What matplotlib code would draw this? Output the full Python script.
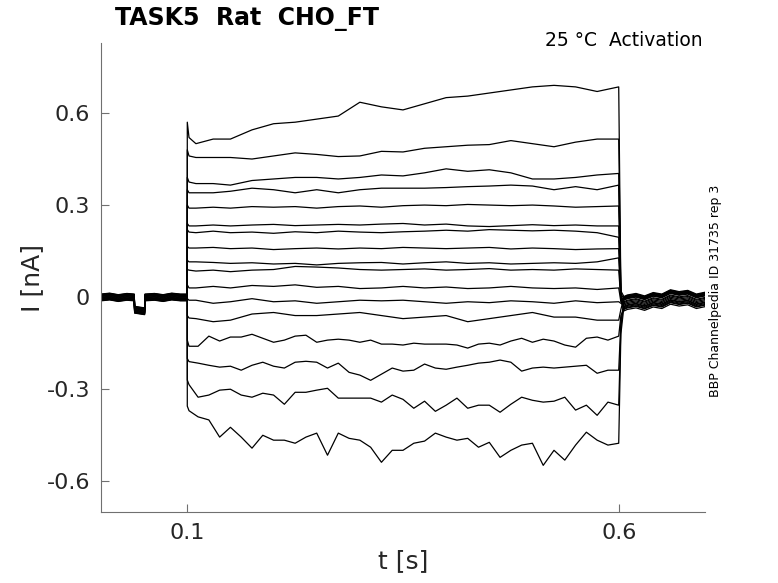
import numpy as np
import matplotlib.pyplot as plt

# times (s)
t_pre = [0.0, 0.01, 0.02, 0.03, 0.0385, 0.039, 0.0505, 0.051, 0.062, 0.072, 0.082, 0.092, 0.1]
pre_base = [0.0, 0.003, -0.002, 0.002, 0.0, -0.04, -0.045, 0.0, 0.002, -0.002, 0.003, 0.0, 0.0]

# coarse time grid for the upper sweeps
t_step = [0.1, 0.102, 0.11, 0.13, 0.15, 0.175, 0.2, 0.225, 0.25, 0.275, 0.3, 0.325,
          0.35, 0.375, 0.4, 0.425, 0.45, 0.475, 0.5, 0.525, 0.55, 0.575, 0.6]
# finer grid for the noisy lower sweeps
t_fine = [0.1, 0.102, 0.1125, 0.125, 0.1375, 0.15, 0.1625, 0.175, 0.1875, 0.2, 0.2125, 0.225,
          0.2375, 0.25, 0.2625, 0.275, 0.2875, 0.3, 0.3125, 0.325, 0.3375, 0.35, 0.3625, 0.375,
          0.3875, 0.4, 0.4125, 0.425, 0.4375, 0.45, 0.4625, 0.475, 0.4875, 0.5, 0.5125, 0.525,
          0.5375, 0.55, 0.5625, 0.575, 0.5875, 0.6]

# current during the step (nA), one list per sweep
tr1 = [0.57, 0.52, 0.50, 0.515, 0.515, 0.545, 0.565, 0.57, 0.58, 0.59, 0.635, 0.62, 0.61, 0.63, 0.65, 0.655, 0.665, 0.675, 0.685, 0.69, 0.685, 0.67, 0.685]
tr2 = [0.48, 0.46, 0.455, 0.455, 0.455, 0.45, 0.46, 0.47, 0.465, 0.458, 0.46, 0.475, 0.473, 0.485, 0.49, 0.495, 0.497, 0.51, 0.5, 0.49, 0.505, 0.515, 0.515]
tr3 = [0.39, 0.375, 0.37, 0.37, 0.365, 0.38, 0.385, 0.39, 0.39, 0.385, 0.39, 0.398, 0.395, 0.405, 0.418, 0.41, 0.415, 0.405, 0.385, 0.385, 0.39, 0.398, 0.403]
tr4 = [0.35, 0.34, 0.34, 0.34, 0.345, 0.355, 0.35, 0.34, 0.35, 0.34, 0.35, 0.355, 0.355, 0.355, 0.357, 0.36, 0.362, 0.365, 0.362, 0.35, 0.36, 0.35, 0.365]
tr5 = [0.30, 0.29, 0.29, 0.293, 0.29, 0.295, 0.293, 0.295, 0.29, 0.295, 0.297, 0.293, 0.298, 0.3, 0.298, 0.302, 0.3, 0.298, 0.3, 0.297, 0.293, 0.295, 0.297]
tr6 = [0.24, 0.232, 0.232, 0.235, 0.232, 0.235, 0.237, 0.233, 0.235, 0.237, 0.235, 0.238, 0.24, 0.235, 0.238, 0.232, 0.23, 0.233, 0.236, 0.233, 0.235, 0.232, 0.232]
tr7 = [0.22, 0.212, 0.21, 0.215, 0.21, 0.212, 0.208, 0.213, 0.21, 0.215, 0.212, 0.21, 0.213, 0.215, 0.218, 0.215, 0.22, 0.218, 0.216, 0.218, 0.215, 0.21, 0.195]
tr8 = [0.165, 0.16, 0.16, 0.162, 0.158, 0.16, 0.155, 0.158, 0.16, 0.157, 0.16, 0.158, 0.162, 0.16, 0.158, 0.16, 0.162, 0.157, 0.16, 0.158, 0.155, 0.157, 0.158]
tr9 = [0.12, 0.115, 0.115, 0.113, 0.11, 0.112, 0.108, 0.11, 0.105, 0.11, 0.112, 0.113, 0.108, 0.112, 0.115, 0.11, 0.112, 0.108, 0.11, 0.112, 0.11, 0.115, 0.128]
tr10 = [0.09, 0.088, 0.085, 0.088, 0.083, 0.088, 0.09, 0.10, 0.098, 0.095, 0.09, 0.088, 0.09, 0.092, 0.088, 0.09, 0.093, 0.088, 0.09, 0.088, 0.092, 0.09, 0.088]
tr11 = [0.04, 0.03, 0.03, 0.035, 0.03, 0.038, 0.035, 0.04, 0.032, 0.035, 0.028, 0.03, 0.035, 0.03, 0.033, 0.028, 0.03, 0.035, 0.03, 0.028, 0.03, 0.025, 0.03]
tr12 = [-0.005, -0.01, -0.01, -0.02, -0.015, -0.005, -0.015, -0.012, -0.02, -0.015, -0.01, -0.012, -0.01, -0.015, -0.02, -0.015, -0.018, -0.012, -0.015, -0.02, -0.012, -0.018, -0.015]
tr13 = [-0.06, -0.068, -0.07, -0.08, -0.075, -0.055, -0.05, -0.06, -0.06, -0.055, -0.05, -0.06, -0.07, -0.065, -0.06, -0.08, -0.07, -0.06, -0.05, -0.065, -0.065, -0.075, -0.075]
tr14 = [-0.14, -0.16, -0.16, -0.127, -0.143, -0.13, -0.13, -0.121, -0.134, -0.147, -0.14, -0.127, -0.124, -0.147,
        -0.14, -0.137, -0.14, -0.147, -0.14, -0.153, -0.153, -0.156, -0.15, -0.153, -0.153, -0.153, -0.156,
        -0.166, -0.153, -0.15, -0.156, -0.143, -0.134, -0.147, -0.137, -0.143, -0.156, -0.163, -0.134, -0.13, -0.14, -0.127]
tr15 = [-0.2, -0.21, -0.215, -0.222, -0.228, -0.225, -0.238, -0.222, -0.212, -0.225, -0.231, -0.212, -0.209, -0.212,
        -0.231, -0.215, -0.245, -0.254, -0.271, -0.251, -0.231, -0.241, -0.238, -0.218, -0.231, -0.235, -0.228,
        -0.222, -0.215, -0.212, -0.205, -0.212, -0.241, -0.231, -0.228, -0.231, -0.228, -0.225, -0.222, -0.248, -0.238, -0.238]
tr16 = [-0.27, -0.285, -0.326, -0.319, -0.303, -0.3, -0.319, -0.326, -0.313, -0.319, -0.349, -0.31, -0.31, -0.303,
        -0.297, -0.329, -0.329, -0.329, -0.329, -0.342, -0.319, -0.333, -0.362, -0.339, -0.372, -0.352, -0.329,
        -0.362, -0.352, -0.352, -0.375, -0.349, -0.326, -0.336, -0.342, -0.339, -0.326, -0.368, -0.352, -0.385, -0.342, -0.352]
tr17 = [-0.355, -0.37, -0.39, -0.4, -0.456, -0.424, -0.456, -0.492, -0.45, -0.466, -0.466, -0.476, -0.456, -0.443,
        -0.515, -0.443, -0.46, -0.466, -0.489, -0.538, -0.499, -0.499, -0.476, -0.469, -0.443, -0.456, -0.466,
        -0.46, -0.489, -0.473, -0.522, -0.499, -0.482, -0.476, -0.548, -0.499, -0.531, -0.482, -0.44, -0.466, -0.482, -0.476]
sweeps = [tr1, tr2, tr3, tr4, tr5, tr6, tr7, tr8, tr9, tr10, tr11, tr12, tr13, tr14, tr15, tr16, tr17]

pre_offset = [0.008, -0.01, 0.004, -0.006, 0.01, -0.002, 0.006, -0.012, 0.002, -0.008, 0.009, -0.004, 0.005, -0.011, 0.0, 0.007, -0.007]

t_post = [0.6025, 0.606, 0.61, 0.62, 0.63, 0.64, 0.65, 0.66, 0.67, 0.68, 0.69, 0.7]
post_base = [-0.01, -0.005, 0.0, -0.008, 0.003, -0.002, 0.012, 0.006, 0.01, -0.002, 0.004]
post_offset = [0.012, -0.03, 0.006, -0.02, 0.01, -0.012, 0.0, -0.035, 0.004, -0.025, -0.005, -0.016, 0.008, -0.028, -0.008, 0.002, -0.022]
tail_dip = [0.02, 0.015, 0.01, 0.01, 0.005, 0.0, 0.0, -0.005, -0.005, -0.01, -0.015, -0.02, -0.04, -0.06, -0.08, -0.1, -0.12]

fig = plt.figure(figsize=(7.78, 5.83), dpi=100)
ax = fig.add_axes([101 / 778, 71 / 583, 604 / 778, 469 / 583])

for i, vals in enumerate(sweeps):
    ts = t_fine if len(vals) == len(t_fine) else t_step
    tt = t_pre + ts + t_post
    pre = [p + pre_offset[i] for p in pre_base]
    post = [tail_dip[i]] + [p + post_offset[i] for p in post_base]
    yy = pre + vals + post
    ax.plot(tt, yy, color='black', lw=0.9)

ax.set_xlim(0, 0.7)
ax.set_ylim(-0.7, 0.828)
ax.set_xticks([0.1, 0.6])
ax.set_xticklabels(['0.1', '0.6'])
ax.set_yticks([-0.6, -0.3, 0, 0.3, 0.6])
ax.set_yticklabels(['-0.6', '-0.3', '0', '0.3', '0.6'])
for s in ['top', 'right']:
    ax.spines[s].set_visible(False)
for s in ['left', 'bottom']:
    ax.spines[s].set_color('#707070')
ax.tick_params(direction='in', length=6, color='#707070', labelsize=16, labelcolor='#262626', pad=8)
ax.set_xlabel('t [s]', fontsize=18, color='#262626', labelpad=4)
ax.set_ylabel('I [nA]', fontsize=18, color='#262626', labelpad=2)

fig.text(115 / 778, 1 - 19 / 583, 'TASK5  Rat  CHO_FT', fontsize=17, fontweight='bold', va='center', ha='left')
fig.text(703 / 778, 1 - 40 / 583, '25 °C  Activation', fontsize=13.5, va='center', ha='right')
fig.text(716 / 778, 1 - 291 / 583, 'BBP Channelpedia ID 31735 rep 3', fontsize=9, rotation=90, va='center', ha='center')

fig.savefig('out.png', dpi=100)
